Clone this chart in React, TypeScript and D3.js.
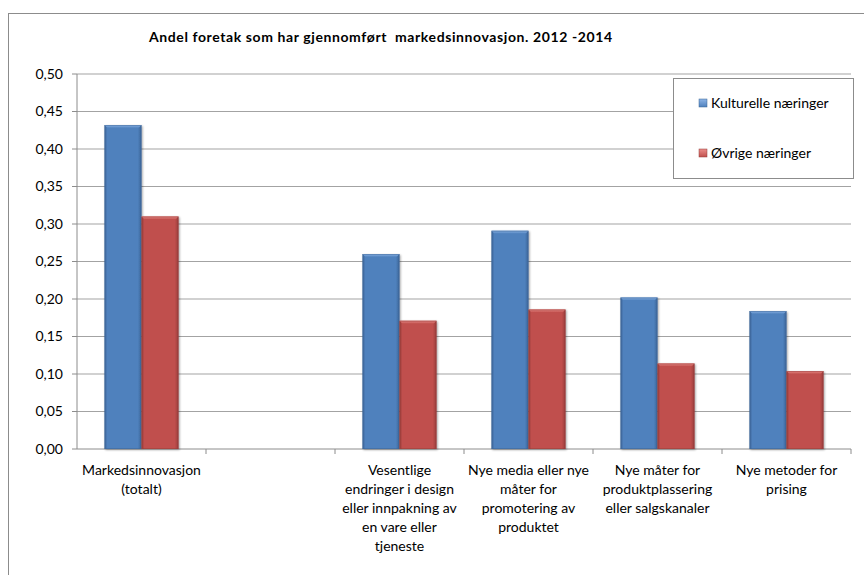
import React from "react";
import * as d3 from "d3";

const categories: string[][] = [
  ["Markedsinnovasjon", "(totalt)"],
  [],
  ["Vesentlige", "endringer i design", "eller innpakning av", "en vare eller", "tjeneste"],
  ["Nye media eller nye", "måter for", "promotering av", "produktet"],
  ["Nye måter for", "produktplassering", "eller salgskanaler"],
  ["Nye metoder for", "prising"],
];
const seriesNames = ["Kulturelle næringer", "Øvrige næringer"];
const kulturelle: (number | null)[] = [0.432, null, 0.26, 0.291, 0.202, 0.184];
const ovrige: (number | null)[] = [0.31, null, 0.171, 0.186, 0.114, 0.104];
const yTicks = [0, 0.05, 0.1, 0.15, 0.2, 0.25, 0.3, 0.35, 0.4, 0.45, 0.5];
const title = "Andel foretak som har gjennomført  markedsinnovasjon. 2012 -2014";

const W = 864;
const H = 575;
const plot = { left: 77, right: 851, top: 74, bottom: 449 };
const colors = [
  { base: "#4F81BD", light: "#8DB4E6", dark: "#3A6397", edge: "#3B6494" },
  { base: "#C0504D", light: "#EA8D8A", dark: "#973B39", edge: "#933C3A" },
];
const font = "Lato, 'Open Sans', sans-serif";

export default function App() {
  const x = d3
    .scaleBand<number>()
    .domain(categories.map((_, i) => i))
    .range([plot.left, plot.right])
    .paddingInner(0)
    .paddingOuter(0);
  const y = d3.scaleLinear().domain([0, 0.5]).range([plot.bottom, plot.top]);
  const groupPad = 0.213;
  const inner = d3
    .scaleBand<number>()
    .domain([0, 1])
    .range([x.bandwidth() * groupPad, x.bandwidth() * (1 - groupPad)]);
  const series = [kulturelle, ovrige];
  const bw = inner.bandwidth();

  return (
    <svg
      width={W}
      height={H}
      style={{ position: "absolute", left: 0, top: 0, background: "#fff" }}
      fontFamily={font}
    >
      <defs>
        {colors.map((c, i) => (
          <linearGradient key={i} id={`g${i}`} x1="0" x2="1" y1="0" y2="0">
            <stop offset="0" stopColor={c.dark} />
            <stop offset="0.08" stopColor={c.base} />
            <stop offset="0.9" stopColor={c.base} />
            <stop offset="1" stopColor={c.dark} />
          </linearGradient>
        ))}
        {colors.map((c, i) => (
          <linearGradient key={i} id={`t${i}`} x1="0" x2="0" y1="0" y2="1">
            <stop offset="0" stopColor={c.light} />
            <stop offset="1" stopColor={c.base} />
          </linearGradient>
        ))}
        <filter id="sh" x="-20%" y="-5%" width="150%" height="120%">
          <feGaussianBlur in="SourceAlpha" stdDeviation="1.2" />
          <feOffset dx="1" dy="1" result="b" />
          <feComponentTransfer>
            <feFuncA type="linear" slope="0.35" />
          </feComponentTransfer>
          <feMerge>
            <feMergeNode />
            <feMergeNode in="SourceGraphic" />
          </feMerge>
        </filter>
      </defs>
      <rect x={8.5} y={13.5} width={W + 20} height={H + 20} fill="#fff" stroke="#8c8c8c" />
      <text
        x={149}
        y={42}
        fontSize={14}
        letterSpacing={0.6}
        fontWeight="bold"
        fill="#000"
        style={{ whiteSpace: "pre" }}
      >
        {title}
      </text>
      {yTicks.map((t) => (
        <g key={t}>
          {t > 0 && (
            <line x1={plot.left} x2={plot.right} y1={y(t)} y2={y(t)} stroke="#a3a3a3" strokeWidth={1.2} />
          )}
          <line x1={plot.left - 5} x2={plot.left} y1={y(t)} y2={y(t)} stroke="#8c8c8c" />
          <text x={63} y={y(t)} dy="0.35em" textAnchor="end" fontSize={14} fill="#000">
            {d3.format(".2f")(t).replace(".", ",")}
          </text>
        </g>
      ))}
      <line x1={plot.left} x2={plot.left} y1={plot.top} y2={plot.bottom} stroke="#8c8c8c" />
      <line x1={plot.left} x2={plot.right} y1={plot.bottom} y2={plot.bottom} stroke="#8c8c8c" />
      {categories.map((_, i) => (
        <line
          key={i}
          x1={(x(i) as number) + x.bandwidth()}
          x2={(x(i) as number) + x.bandwidth()}
          y1={plot.bottom}
          y2={plot.bottom + 5}
          stroke="#8c8c8c"
        />
      ))}
      {series.map((vals, s) =>
        vals.map((v, i) => {
          if (v == null) return null;
          const bx = (x(i) as number) + (inner(s) as number);
          const by = y(v);
          const bh = plot.bottom - by;
          const bev = 3;
          return (
            <g key={`${s}-${i}`} filter="url(#sh)">
              <rect x={bx} y={by} width={bw} height={bh} fill={`url(#g${s})`} />
              <polygon
                points={`${bx},${by} ${bx + bw},${by} ${bx + bw - bev},${by + bev} ${bx + bev},${by + bev}`}
                fill={`url(#t${s})`}
              />
              <rect x={bx + 0.5} y={by + 0.5} width={bw - 1} height={bh - 1} fill="none" stroke={colors[s].edge} strokeOpacity={0.5} />
            </g>
          );
        })
      )}
      {categories.map((lines, i) => (
        <text
          key={i}
          x={(x(i) as number) + x.bandwidth() / 2}
          y={470}
          textAnchor="middle"
          fontSize={14}
          fill="#000"
        >
          {lines.map((l, k) => (
            <tspan key={k} x={(x(i) as number) + x.bandwidth() / 2} y={470 + k * 19} dy="0.35em">
              {l}
            </tspan>
          ))}
        </text>
      ))}
      <rect x={673.5} y={78.5} width={180} height={100} fill="#fff" stroke="#8c8c8c" />
      {seriesNames.map((n, s) => (
        <g key={n}>
          <rect x={699} y={(s === 0 ? 103 : 153) - 4} width={8} height={8} fill={`url(#t${s})`} stroke={colors[s].edge} strokeWidth={0.5} />
          <text x={711} y={s === 0 ? 103 : 153} dy="0.35em" fontSize={14} fill="#000">
            {n}
          </text>
        </g>
      ))}
    </svg>
  );
}
